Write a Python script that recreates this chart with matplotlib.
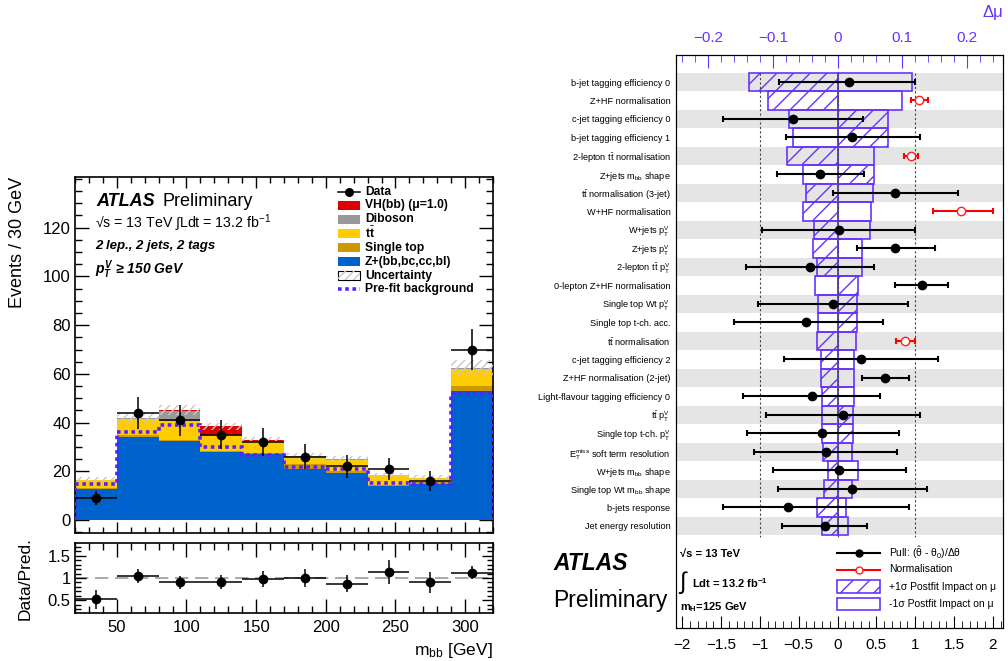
import numpy as np
import matplotlib
matplotlib.use('Agg')
import matplotlib.pyplot as plt
from matplotlib.patches import Rectangle
from matplotlib.lines import Line2D
from matplotlib.ticker import MultipleLocator, FuncFormatter

plt.rcParams['font.family'] = ['Liberation Sans', 'DejaVu Sans']
plt.rcParams['mathtext.fontset'] = 'custom'
plt.rcParams['mathtext.rm'] = 'Liberation Sans'
plt.rcParams['mathtext.it'] = 'Liberation Sans:italic:bold'
plt.rcParams['mathtext.bf'] = 'Liberation Sans:bold'
plt.rcParams['hatch.linewidth'] = 1.0
plt.rcParams['axes.unicode_minus'] = True

# ---------------- data: left panel (m_bb distribution) ----------------
bin_edges = [20, 50, 80, 110, 140, 170, 200, 230, 260, 290, 320]
bin_centers = [35, 65, 95, 125, 155, 185, 215, 245, 275, 305]
zhf = [12.9, 34.3, 32.4, 27.9, 27.2, 21.1, 19.3, 13.9, 14.7, 53.1]
single_top = [0.3, 0.5, 0.5, 0.5, 0.4, 2.0, 0.8, 0.5, 0.9, 2.0]
ttbar = [3.1, 6.7, 7.9, 6.3, 4.4, 2.7, 4.7, 4.0, 1.7, 7.1]
diboson = [0.2, 0.3, 3.8, 0.3, 0.3, 0.3, 0.2, 0.1, 0.1, 0.2]
vh = [0.0, 0.0, 0.6, 3.5, 0.6, 0.2, 0.1, 0.0, 0.0, 0.1]
bkg_unc = [1.0, 2.0, 2.0, 1.5, 1.3, 1.2, 1.2, 1.0, 0.9, 3.2]
prefit_bkg = [14.7, 36.0, 39.2, 29.9, 26.9, 21.8, 21.1, 15.2, 14.7, 52.0]
data_counts = [9, 44, 41, 35, 32, 26, 22, 21, 16, 70]
data_err = [3.0, 6.6, 6.4, 5.9, 5.7, 5.1, 4.7, 4.6, 4.0, 8.4]
ratio_vals = [0.53, 1.05, 0.90, 0.91, 0.98, 1.00, 0.87, 1.13, 0.90, 1.12]
ratio_err = [0.21, 0.16, 0.14, 0.15, 0.18, 0.20, 0.19, 0.27, 0.24, 0.14]

# ---------------- data: right panel (ranking of nuisance parameters) ----------------
np_labels = [
    'b-jet tagging efficiency 0',
    'Z+HF normalisation',
    'c-jet tagging efficiency 0',
    'b-jet tagging efficiency 1',
    r'2-lepton t$\bar{\mathrm{t}}$ normalisation',
    r'Z+jets m$_{\mathrm{bb}}$ shape',
    r't$\bar{\mathrm{t}}$ normalisation (3-jet)',
    'W+HF normalisation',
    r'W+jets p$_{\mathrm{T}}^{\mathrm{V}}$',
    r'Z+jets p$_{\mathrm{T}}^{\mathrm{V}}$',
    r'2-lepton t$\bar{\mathrm{t}}$ p$_{\mathrm{T}}^{\mathrm{V}}$',
    '0-lepton Z+HF normalisation',
    r'Single top Wt p$_{\mathrm{T}}^{\mathrm{V}}$',
    'Single top t-ch. acc.',
    r't$\bar{\mathrm{t}}$ normalisation',
    'c-jet tagging efficiency 2',
    'Z+HF normalisation (2-jet)',
    'Light-flavour tagging efficiency 0',
    r't$\bar{\mathrm{t}}$ p$_{\mathrm{T}}^{\mathrm{V}}$',
    r'Single top t-ch. p$_{\mathrm{T}}^{\mathrm{V}}$',
    r'E$_{\mathrm{T}}^{\mathrm{miss}}$ soft term resolution',
    r'W+jets m$_{\mathrm{bb}}$ shape',
    r'Single top Wt m$_{\mathrm{bb}}$ shape',
    'b-jets response',
    'Jet energy resolution',
]
nan = np.nan
pull_val = [0.15, nan, -0.58, 0.19, nan, -0.23, 0.735, nan, 0.02, 0.735, -0.355, 1.085, -0.065,
            -0.40, nan, 0.30, 0.615, -0.335, 0.07, -0.20, -0.15, 0.02, 0.19, -0.64, -0.16]
pull_err_lo = [0.90, nan, 0.90, 0.86, nan, 0.55, 0.795, nan, 0.995, 0.485, 0.82, 0.35, 0.965,
               0.93, nan, 0.985, 0.305, 0.885, 0.99, 0.97, 0.92, 0.845, 0.96, 0.84, 0.56]
pull_err_hi = [0.85, nan, 0.91, 0.87, nan, 0.57, 0.82, nan, 0.98, 0.515, 0.82, 0.335, 0.97,
               0.985, nan, 0.99, 0.305, 0.875, 0.985, 0.985, 0.92, 0.865, 0.96, 1.56, 0.54]
norm_val = [nan, 1.05, nan, nan, 0.94, nan, nan, 1.59, nan, nan, nan, nan, nan,
            nan, 0.87, nan, nan, nan, nan, nan, nan, nan, nan, nan, nan]
norm_err_lo = [nan, 0.11, nan, nan, 0.09, nan, nan, 0.355, nan, nan, nan, nan, nan,
               nan, 0.12, nan, nan, nan, nan, nan, nan, nan, nan, nan, nan]
norm_err_hi = [nan, 0.11, nan, nan, 0.10, nan, nan, 0.405, nan, nan, nan, nan, nan,
               nan, 0.13, nan, nan, nan, nan, nan, nan, nan, nan, nan, nan]
impact_plus = [-0.137, -0.108, 0.078, 0.078, -0.0775, 0.056, -0.049, -0.053, -0.036, -0.0385,
               -0.032, 0.032, 0.030, 0.030, -0.031, -0.026, -0.026, -0.0246, 0.024, 0.024,
               -0.022, -0.0154, -0.021, -0.031, -0.0237]
impact_minus = [0.115, 0.100, -0.0745, -0.069, 0.057, -0.053, 0.054, 0.051, 0.050, 0.0385,
                0.037, -0.035, -0.030, -0.030, 0.028, 0.0256, 0.025, 0.025, -0.0236, -0.0236,
                0.023, 0.031, 0.0225, 0.0128, 0.0154]

# ---------------- styles ----------------
W, H = 1008, 661
C_VH = '#e00000'
C_DIB = '#999999'
C_TT = '#ffcc00'
C_ST = '#cc9900'
C_Z = '#0062cc'
C_PRE = '#5522ff'
VIOLET = '#6633ff'
DMU_PER_PULL = 0.12


def fx(px):
    return px / W


def fy(py):
    return 1 - py / H


def gfmt(v, pos):
    if abs(v) < 1e-9:
        return '0'
    return ('%g' % round(v, 6)).replace('-', '\u2212')


fig = plt.figure(figsize=(W / 100, H / 100), dpi=100)

# ================= LEFT: main panel =================
ax = fig.add_axes([fx(75), fy(533), fx(493) - fx(75), fy(177) - fy(533)])
bottom = np.zeros(len(bin_centers))
for vals, col in [(zhf, C_Z), (single_top, C_ST), (ttbar, C_TT), (diboson, C_DIB), (vh, C_VH)]:
    ax.bar(bin_edges[:-1], vals, width=30, align='edge', bottom=bottom, color=col, lw=0, zorder=2)
    bottom = bottom + np.array(vals)
total = bottom
ax.bar(bin_edges[:-1], 2 * np.array(bkg_unc), width=30, align='edge', bottom=total - np.array(bkg_unc),
       fill=False, hatch='////', edgecolor='#c8c8c8', lw=0, zorder=3)
ax.stairs(prefit_bkg, bin_edges, color=C_PRE, lw=2.6, ls=(0, (1, 1)), zorder=4)
ax.errorbar(bin_centers, data_counts, yerr=data_err, xerr=15, fmt='o', color='black', ms=6,
            elinewidth=1.1, capsize=0, zorder=5)
ax.set_xlim(20, 320)
ax.set_ylim(-5.3, 140.8)
ax.xaxis.set_major_locator(MultipleLocator(50))
ax.xaxis.set_minor_locator(MultipleLocator(10))
ax.yaxis.set_minor_locator(MultipleLocator(5))
ax.set_yticks([0, 20, 40, 60, 80, 100, 120])
ax.tick_params(axis='both', which='both', direction='in', top=True, right=True, width=1)
ax.tick_params(axis='y', which='major', length=10, labelsize=12, pad=3)
ax.tick_params(axis='y', which='minor', length=5)
ax.tick_params(axis='x', which='major', length=8, labelbottom=False)
ax.tick_params(axis='x', which='minor', length=4)
for s in ax.spines.values():
    s.set_linewidth(1.2)

fig.text(fx(18), fy(177), 'Events / 30 GeV', rotation=90, ha='center', va='top', fontsize=13)

# ATLAS labels
fig.text(fx(96), fy(201), 'ATLAS', fontsize=13, fontweight='bold', fontstyle='italic',
         va='center', ha='left')
fig.text(fx(163), fy(201), 'Preliminary', fontsize=13, va='center', ha='left')
fig.text(fx(95), fy(223), '√s = 13 TeV ∫Ldt = 13.2 fb$^{-1}$', fontsize=10.2, va='center', ha='left')
fig.text(fx(95), fy(246), '2 lep., 2 jets, 2 tags', fontsize=9.5, fontweight='bold',
         fontstyle='italic', va='center', ha='left')
fig.text(fx(95), fy(270), r'$p_{T}^{V}$ ≥ 150 GeV', fontsize=10, fontweight='bold',
         fontstyle='italic', va='center', ha='left')

# Legend (left)
leg_items = [
    ('Data', 'data', None),
    ('VH(bb) (μ=1.0)', 'box', C_VH),
    ('Diboson', 'box', C_DIB),
    (r't$\bar{\mathbf{t}}$', 'box', C_TT),
    ('Single top', 'box', C_ST),
    ('Z+(bb,bc,cc,bl)', 'box', C_Z),
    ('Uncertainty', 'unc', None),
    ('Pre-fit background', 'pre', None),
]
ys = [191.7, 205.5, 219.5, 233.5, 247.5, 261.5, 275.5, 289.0]
for (lab, kind, col), py in zip(leg_items, ys):
    if kind == 'data':
        fig.add_artist(Line2D([fx(338), fx(360)], [fy(py), fy(py)], color='black', lw=1.1))
        fig.add_artist(Line2D([fx(349)], [fy(py)], marker='o', color='black', ms=5.5))
    elif kind == 'box':
        fig.add_artist(Rectangle((fx(338), fy(py + 4.5)), fx(22), 9 / H, facecolor=col, lw=0))
    elif kind == 'unc':
        fig.add_artist(Rectangle((fx(338), fy(py + 4.5)), fx(22), 9 / H, facecolor='white',
                                 edgecolor='black', lw=0.8))
        fig.add_artist(Rectangle((fx(338), fy(py + 4.5)), fx(22), 9 / H, fill=False,
                                 edgecolor='#c8c8c8', hatch='////', lw=0))
    elif kind == 'pre':
        fig.add_artist(Line2D([fx(338), fx(360)], [fy(py), fy(py)], color=C_PRE, lw=2.6, ls=(0, (1, 1))))
    fig.text(fx(365), fy(py), lab, fontsize=8.7, fontweight='bold', va='center', ha='left')

# ================= LEFT: ratio panel =================
axr = fig.add_axes([fx(75), fy(613), fx(493) - fx(75), fy(543) - fy(613)])
axr.axhline(1.0, color='#999999', lw=1.2, ls=(0, (8, 4)), zorder=1)
axr.errorbar(bin_centers, ratio_vals, yerr=ratio_err, xerr=15, fmt='o', color='black', ms=6,
             elinewidth=1.1, capsize=0, zorder=3)
axr.set_xlim(20, 320)
axr.set_ylim(0.22, 1.78)
axr.xaxis.set_major_locator(MultipleLocator(50))
axr.xaxis.set_minor_locator(MultipleLocator(10))
axr.set_yticks([0.5, 1.0, 1.5])
axr.yaxis.set_major_formatter(FuncFormatter(gfmt))
axr.yaxis.set_minor_locator(MultipleLocator(0.1))
axr.tick_params(axis='both', which='both', direction='in', top=True, right=True, width=1)
axr.tick_params(axis='x', which='major', length=10, labelsize=12, pad=5)
axr.tick_params(axis='x', which='minor', length=5)
axr.tick_params(axis='y', which='major', length=8, labelsize=12, pad=3)
axr.tick_params(axis='y', which='minor', length=4)
for s in axr.spines.values():
    s.set_linewidth(1.2)
fig.text(fx(25), fy(578), 'Data/Pred.', rotation=90, ha='center', va='center', fontsize=12.5)
fig.text(fx(493), fy(650), r'm$_{\mathrm{bb}}$ [GeV]', ha='right', va='center', fontsize=12.5)

# ================= RIGHT: ranking panel =================
axp = fig.add_axes([fx(676), fy(628), fx(1003) - fx(676), fy(55) - fy(628)])
axt = axp.twiny()
axp.set_zorder(axt.get_zorder() + 1)
axp.patch.set_visible(False)
axt.patch.set_visible(True)
axt.patch.set_facecolor('white')

rows = np.arange(len(np_labels))
xl = (-2.08, 2.13)
axp.set_xlim(*xl)
axt.set_xlim(xl[0] * DMU_PER_PULL, xl[1] * DMU_PER_PULL)
axp.set_ylim(29.52, -1.46)

for i in rows[::2]:
    axt.axhspan(i - 0.5, i + 0.5, color='#e5e5e5', lw=0, zorder=0)
axt.barh(rows, impact_plus, height=1.0, left=0, facecolor='none', edgecolor=VIOLET,
         hatch='//', lw=1.2, zorder=2)
axt.barh(rows, impact_minus, height=1.0, left=0, facecolor='none', edgecolor=VIOLET,
         lw=1.2, zorder=2)

axp.vlines([-1, 0, 1], -0.5, 24.6, colors='#444444', lw=0.8, ls=(0, (2, 2)), zorder=1)

pv = np.array(pull_val)
m = ~np.isnan(pv)
axp.errorbar(pv[m], rows[m], xerr=[np.array(pull_err_lo)[m], np.array(pull_err_hi)[m]], fmt='o',
             color='black', ms=6, elinewidth=1.5, capsize=2.5, capthick=1.5, zorder=5)
nv = np.array(norm_val)
mn = ~np.isnan(nv)
axp.errorbar(nv[mn], rows[mn], xerr=[np.array(norm_err_lo)[mn], np.array(norm_err_hi)[mn]], fmt='o',
             color='#ff0000', mfc='white', mec='#ff2020', ms=6, elinewidth=1.5, capsize=2.5,
             capthick=1.5, zorder=5)

axp.set_yticks(rows)
axp.set_yticklabels(np_labels)
axp.tick_params(axis='y', length=0, pad=4, labelsize=6.6)
axp.xaxis.set_major_locator(MultipleLocator(0.5))
axp.xaxis.set_minor_locator(MultipleLocator(0.1))
axp.xaxis.set_major_formatter(FuncFormatter(gfmt))
axp.tick_params(axis='x', which='both', direction='in', top=False, bottom=True)
axp.tick_params(axis='x', which='major', length=9, labelsize=11, pad=7)
axp.tick_params(axis='x', which='minor', length=5)

axt.set_xticks([-0.2, -0.1, 0.0, 0.1, 0.2])
axt.xaxis.set_major_formatter(FuncFormatter(gfmt))
axt.xaxis.set_minor_locator(MultipleLocator(0.02))
axt.tick_params(axis='x', which='both', direction='in', colors=VIOLET, top=True, bottom=False)
axt.tick_params(axis='x', which='major', length=9, labelsize=11, pad=7)
axt.tick_params(axis='x', which='minor', length=5)
fig.text(fx(993), fy(12), 'Δμ', color=VIOLET, fontsize=12, ha='center', va='center')

# right-panel inside legend / labels
fig.text(fx(680), fy(554), '√s = 13 TeV', fontsize=8, fontweight='bold', ha='left', va='center')
fig.text(fx(679), fy(583), '∫', fontsize=17, ha='left', va='center')
fig.text(fx(692), fy(583), r'Ldt = 13.2 fb$^{\mathbf{-1}}$', fontsize=8, fontweight='bold',
         ha='left', va='center')
fig.text(fx(680), fy(607), r'm$_{\mathbf{H}}$=125 GeV', fontsize=8, fontweight='bold',
         ha='left', va='center')

fig.add_artist(Line2D([fx(837), fx(880)], [fy(553), fy(553)], color='black', lw=1.5))
fig.add_artist(Line2D([fx(858.5)], [fy(553)], marker='o', color='black', ms=5))
fig.text(fx(889), fy(553), r'Pull: ($\hat{\mathrm{\theta}}$ - $\mathrm{\theta}_{0}$)/$\mathrm{\Delta\theta}$',
         fontsize=7.5, ha='left', va='center')
fig.add_artist(Line2D([fx(837), fx(880)], [fy(569.5), fy(569.5)], color='#ff0000', lw=1.5))
fig.add_artist(Line2D([fx(858.5)], [fy(569.5)], marker='o', color='#ff2020', mfc='white', ms=5))
fig.text(fx(889), fy(569.5), 'Normalisation', fontsize=7.5, ha='left', va='center')
fig.add_artist(Rectangle((fx(837), fy(592.5)), fx(43), 12.5 / H, facecolor='white',
                         edgecolor=VIOLET, hatch='//', lw=1.2))
fig.text(fx(889), fy(586.5), '+1σ Postfit Impact on μ', fontsize=7.5, ha='left', va='center')
fig.add_artist(Rectangle((fx(837), fy(610)), fx(43), 12.5 / H, facecolor='white',
                         edgecolor=VIOLET, lw=1.2))
fig.text(fx(889), fy(604), '-1σ Postfit Impact on μ', fontsize=7.5, ha='left', va='center')

fig.text(fx(553), fy(563), 'ATLAS', fontsize=16.5, fontweight='bold', fontstyle='italic',
         ha='left', va='center')
fig.text(fx(553), fy(601), 'Preliminary', fontsize=16.5, ha='left', va='center')

fig.savefig('out.png', dpi=100)
